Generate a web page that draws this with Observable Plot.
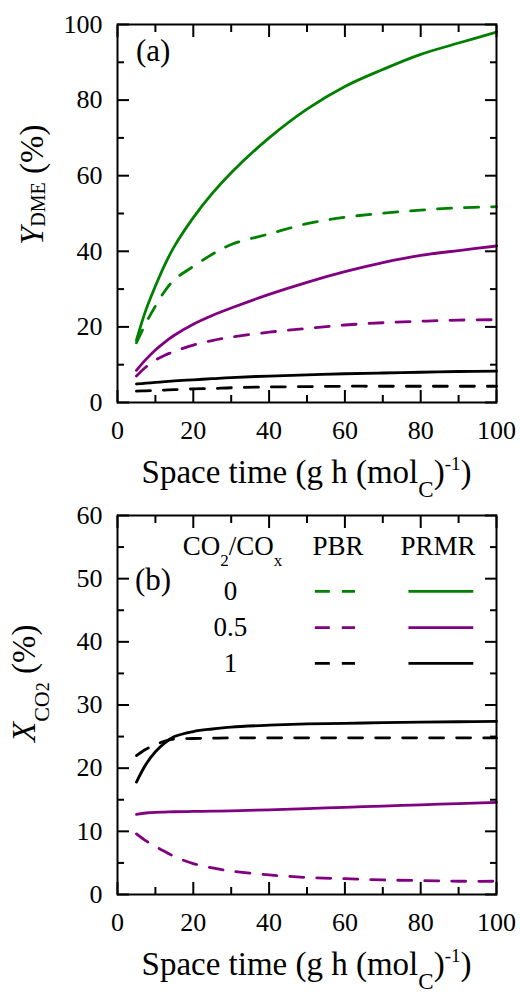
<!DOCTYPE html>
<html><head><meta charset="utf-8">
<script src="https://cdn.jsdelivr.net/npm/d3@7"></script>
<script src="https://cdn.jsdelivr.net/npm/@observablehq/plot@0.6"></script>
<style>
html,body{margin:0;padding:0;background:#fff;}
#chart svg{display:block;}
</style></head><body><div id="chart"></div>
<script>
// ---------------- data ----------------
const spaceTime = [5, 7.5, 10, 12.5, 15, 20, 25, 30, 40, 50, 60, 70, 80, 90, 100];
const ratios = ["0", "0.5", "1"];
const reactors = ["PBR", "PRMR"];
// Panel (a): Y_DME (%)
const yDME_PBR_0   = [15.8, 21.0, 25.5, 29.5, 32.5, 36.0, 39.2, 41.8, 44.6, 47.3, 49.0, 50.1, 50.9, 51.5, 51.8];
const yDME_PRMR_0  = [16.5, 24.5, 30.8, 36.5, 41.3, 48.9, 55.3, 60.8, 70.0, 77.6, 83.6, 88.1, 92.1, 95.1, 98.0];
const yDME_PBR_05  = [7.0, 9.4, 11.2, 12.5, 13.5, 15.2, 16.4, 17.3, 18.6, 19.6, 20.5, 21.1, 21.5, 21.8, 21.9];
const yDME_PRMR_05 = [8.5, 11.4, 13.9, 16.0, 17.8, 20.7, 23.0, 25.0, 28.6, 31.8, 34.6, 37.0, 38.9, 40.2, 41.4];
const yDME_PBR_1   = [3.0, 3.1, 3.2, 3.3, 3.4, 3.6, 3.7, 3.9, 4.1, 4.2, 4.3, 4.3, 4.3, 4.3, 4.3];
const yDME_PRMR_1  = [4.9, 5.1, 5.3, 5.5, 5.7, 6.0, 6.3, 6.6, 7.0, 7.3, 7.6, 7.8, 8.0, 8.2, 8.3];
// Panel (b): X_CO2 (%)
const xCO2_PBR_05  = [9.6, 8.5, 7.6, 6.8, 6.0, 4.9, 4.2, 3.7, 3.1, 2.7, 2.5, 2.3, 2.2, 2.1, 2.1];
const xCO2_PRMR_05 = [12.7, 12.9, 13.0, 13.05, 13.1, 13.15, 13.2, 13.25, 13.4, 13.6, 13.8, 14.0, 14.2, 14.4, 14.6];
const xCO2_PBR_1   = [22.0, 23.0, 23.7, 24.3, 24.6, 24.7, 24.75, 24.8, 24.8, 24.8, 24.8, 24.8, 24.8, 24.8, 24.8];
const xCO2_PRMR_1  = [17.8, 20.6, 22.6, 24.0, 25.0, 25.8, 26.2, 26.5, 26.8, 27.0, 27.1, 27.2, 27.3, 27.35, 27.4];
// ticks
const xTicks  = [0, 20, 40, 60, 80, 100];
const xMinor  = [10, 30, 50, 70, 90];
const yTicksA = [0, 20, 40, 60, 80, 100];
const yMinorA = [10, 30, 50, 70, 90];
const yTicksB = [0, 10, 20, 30, 40, 50, 60];
const yMinorB = [5, 15, 25, 35, 45, 55];

// ---------------- styles / layout ----------------
const COLORS = {"0": "#008000", "0.5": "#800080", "1": "#000000"};
const FONT = "'Liberation Serif', 'Times New Roman', Times, serif";
const W = 520, ML = 117, MR = 24;
const LW = 2.8, DASH = "14,13";
const MAJOR = 12, MINOR = 7, TICK_COLOR = "#000";
// legend layout (panel b data coordinates)
const legendRowY = [48.0, 42.25, 36.6];
const legendLabelX = 29.8;
const legendPBRx = [52.2, 62.8];
const legendPRMRx = [76.9, 94.0];
const legendHeadY = 53.7;
const legendHeadX = {ratio: 30.5, PBR: 58.3, PRMR: 84.7};

function rows(values, ratio, reactor) {
  return spaceTime.map((t, i) => ({t, v: values[i], ratio, reactor}));
}
const dataA = [
  ...rows(yDME_PBR_0, "0", "PBR"), ...rows(yDME_PRMR_0, "0", "PRMR"),
  ...rows(yDME_PBR_05, "0.5", "PBR"), ...rows(yDME_PRMR_05, "0.5", "PRMR"),
  ...rows(yDME_PBR_1, "1", "PBR"), ...rows(yDME_PRMR_1, "1", "PRMR")
];
const dataB = [
  ...rows(xCO2_PBR_05, "0.5", "PBR"), ...rows(xCO2_PRMR_05, "0.5", "PRMR"),
  ...rows(xCO2_PBR_1, "1", "PBR"), ...rows(xCO2_PRMR_1, "1", "PRMR")
];

// inward tick marks on all four sides, as Plot axis marks with negative tick size
function tickMarks(yTicks, yMinor) {
  const o = {stroke: TICK_COLOR, strokeWidth: 2, tickFormat: () => "", label: null, tickPadding: 0};
  return [
    Plot.axisY({...o, anchor: "left", ticks: yTicks, tickSize: -MAJOR}),
    Plot.axisY({...o, anchor: "right", ticks: yTicks, tickSize: -MAJOR}),
    Plot.axisY({...o, anchor: "left", ticks: yMinor, tickSize: -MINOR}),
    Plot.axisY({...o, anchor: "right", ticks: yMinor, tickSize: -MINOR}),
    Plot.axisX({...o, anchor: "bottom", ticks: xTicks, tickSize: -MAJOR}),
    Plot.axisX({...o, anchor: "top", ticks: xTicks, tickSize: -MAJOR}),
    Plot.axisX({...o, anchor: "bottom", ticks: xMinor, tickSize: -MINOR}),
    Plot.axisX({...o, anchor: "top", ticks: xMinor, tickSize: -MINOR})
  ];
}

function panel({height, marginTop, marginBottom, yDomain, yTicks, yMinor, data, extra = []}) {
  return Plot.plot({
    width: W, height, marginLeft: ML, marginRight: MR, marginTop, marginBottom,
    x: {domain: [0, 100]}, y: {domain: yDomain}, color: {type: "identity"},
    style: {fontFamily: FONT, fontSize: "26px", color: "#000", background: "#fff", overflow: "visible"},
    marks: [
      Plot.line(data.filter(d => d.reactor === "PBR"), {x: "t", y: "v", z: "ratio", stroke: d => COLORS[d.ratio], strokeWidth: LW, strokeDasharray: DASH, curve: "catmull-rom"}),
      Plot.line(data.filter(d => d.reactor === "PRMR"), {x: "t", y: "v", z: "ratio", stroke: d => COLORS[d.ratio], strokeWidth: LW, curve: "catmull-rom"}),
      ...tickMarks(yTicks, yMinor),
      Plot.frame({strokeWidth: 2}),
      Plot.axisX({ticks: xTicks, tickSize: 0, tickPadding: 18, label: null, fontFamily: FONT, fontSize: 26}),
      Plot.axisY({ticks: yTicks, tickSize: 0, tickPadding: 15, label: null, fontFamily: FONT, fontSize: 26}),
      ...extra
    ]
  });
}

function xTitle(svg, cx, baseline) {
  const t = svg.append("text").attr("x", cx).attr("y", baseline).attr("font-family", FONT)
    .attr("text-anchor", "middle").attr("font-size", 33).attr("fill", "#000");
  t.append("tspan").text("Space time (g h (mol");
  t.append("tspan").attr("font-size", 23).attr("dy", 14).text("C");
  t.append("tspan").attr("dy", -14).text(")");
  t.append("tspan").attr("font-size", 19).attr("dy", -13).text("-1");
  t.append("tspan").attr("dy", 13).text(")");
}

const chart = document.getElementById("chart");

// ---------- panel (a) ----------
const pA = panel({height: 503, marginTop: 24, marginBottom: 101, yDomain: [0, 100], yTicks: yTicksA, yMinor: yMinorA, data: dataA});
chart.appendChild(pA);
{
  const svg = d3.select(pA);
  const xs = pA.scale("x");
  xTitle(svg, xs.apply(50), 483);
  const t = svg.append("text").attr("transform", "translate(43,245) rotate(-90)").attr("font-family", FONT)
    .attr("text-anchor", "start").attr("font-size", 33).attr("fill", "#000");
  t.append("tspan").attr("font-style", "italic").text("Y");
  t.append("tspan").attr("font-size", 20).attr("dy", 2).text("DME");
  t.append("tspan").attr("dy", -2).text(" (%)");
  svg.append("text").attr("x", ML + 19).attr("y", 61).attr("text-anchor", "start").attr("font-family", FONT)
    .attr("font-size", 31).attr("fill", "#000").text("(a)");
}

// ---------- panel (b) ----------
const legendRows = ratios.map((r, i) => ({ratio: r, y: legendRowY[i]}));
const legendMarks = [
  Plot.ruleY(legendRows, {y: "y", x1: () => legendPBRx[0], x2: () => legendPBRx[1], stroke: d => COLORS[d.ratio], strokeWidth: LW, strokeDasharray: "15,12"}),
  Plot.ruleY(legendRows, {y: "y", x1: () => legendPRMRx[0], x2: () => legendPRMRx[1], stroke: d => COLORS[d.ratio], strokeWidth: LW}),
  Plot.text(legendRows, {x: () => legendLabelX, y: "y", text: "ratio", fontSize: 27, fontFamily: FONT, textAnchor: "middle", lineAnchor: "middle"})
];
const pB = panel({height: 492, marginTop: 12, marginBottom: 101, yDomain: [0, 60], yTicks: yTicksB, yMinor: yMinorB, data: dataB, extra: legendMarks});
chart.appendChild(pB);
{
  const svg = d3.select(pB);
  const xs = pB.scale("x"), ys = pB.scale("y");
  xTitle(svg, xs.apply(50), 472);
  const t = svg.append("text").attr("transform", "translate(35,239) rotate(-90)").attr("font-family", FONT)
    .attr("text-anchor", "start").attr("font-size", 33).attr("fill", "#000");
  t.append("tspan").attr("font-style", "italic").text("X");
  t.append("tspan").attr("font-size", 22).attr("dy", 14).text("CO");
  t.append("tspan").attr("font-size", 18).text("2");
  t.append("tspan").attr("dy", -14).text(" (%)");
  svg.append("text").attr("x", ML + 18).attr("y", 87).attr("text-anchor", "start").attr("font-family", FONT)
    .attr("font-size", 31).attr("fill", "#000").text("(b)");
  const hy = ys.apply(legendHeadY);
  const h = svg.append("text").attr("x", xs.apply(legendHeadX.ratio)).attr("y", hy).attr("font-family", FONT)
    .attr("text-anchor", "middle").attr("font-size", 27).attr("fill", "#000");
  h.append("tspan").text("CO");
  h.append("tspan").attr("font-size", 17).attr("dy", 11).text("2");
  h.append("tspan").attr("dy", -11).text("/CO");
  h.append("tspan").attr("font-size", 17).attr("dy", 11).text("x");
  reactors.forEach(r => {
    svg.append("text").attr("x", xs.apply(legendHeadX[r])).attr("y", hy).attr("font-family", FONT)
      .attr("text-anchor", "middle").attr("font-size", 27).attr("fill", "#000").text(r);
  });
}
</script></body></html>
